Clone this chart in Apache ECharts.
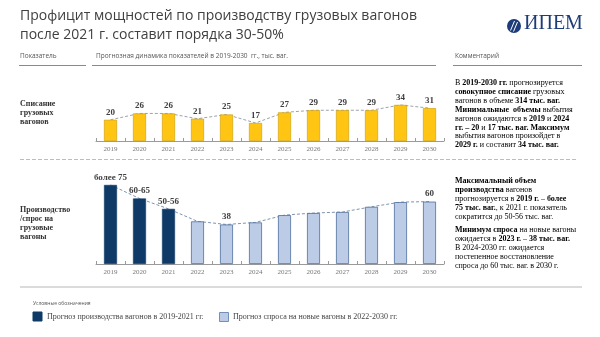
<!DOCTYPE html>
<html><head><meta charset="utf-8">
<script src="https://cdn.jsdelivr.net/npm/echarts@6/dist/echarts.min.js"></script>
<style>html,body{margin:0;padding:0;background:#fff}#c{width:600px;height:337px}</style>
</head><body><div id="c"></div>
<script>
// ---- data ----
const years = ['2019','2020','2021','2022','2023','2024','2025','2026','2027','2028','2029','2030'];
const writeoff = [20,26,26,21,25,17,27,29,29,29,34,31];
const prodDemand = [76,63,53,41,38,40,47,49,50,55,59.5,60];
const productionYears = 3; // 2019-2021 = production forecast, rest = demand forecast
const prodDemandLabels = ['более 75','60-65','50-56','','38','','','','','','','60'];

const production = prodDemand.map((v,i)=> i < productionYears ? v : '-');
const demand = prodDemand.map((v,i)=> i >= productionYears ? v : '-');

const SERIF = '"Liberation Serif", serif';
const SANS = '"Open Sans", sans-serif';

const chart = echarts.init(document.getElementById('c'), null, {renderer:'canvas'});

function xAxisCfg(gi){
  return {
    type:'category', gridIndex:gi, data:years,
    axisLine:{lineStyle:{color:'#9a9a9a',width:1}},
    axisTick:{show:true,inside:true,length:3,lineStyle:{color:'#9a9a9a'}},
    axisLabel:{fontFamily:SERIF,fontSize:7,color:'#777',margin:5}
  };
}
function yAxisCfg(gi,max){
  return {type:'value',gridIndex:gi,min:0,max:max,show:false,splitLine:{show:false}};
}
const valLabel = {show:true,position:'top',distance:3,fontFamily:SERIF,fontWeight:'bold',fontSize:9,color:'#404040'};

const rich = {
  b:{fontFamily:SERIF,fontSize:8,fontWeight:'bold',color:'#383838',lineHeight:8.9},
  g:{fontFamily:SERIF,fontSize:8,color:'#5a9a3a',fontWeight:'bold',lineHeight:8.9},
  n:{fontFamily:SERIF,fontSize:8,color:'#5a5a5a',lineHeight:8.9}
};
function commentText(lines){ return lines.join('\n'); }

const topComment = [
  '{n|В }{b|2019-2030 гг.}{n| прогнозируется}',
  '{b|совокупное списание}{n| грузовых}',
  '{n|вагонов в объеме }{g|314 тыс. ваг.}',
  '{b|Минимальные  объемы}{n| выбытия}',
  '{n|вагонов ожидаются в }{b|2019}{n| и }{b|2024}',
  '{b|гг. – }{g|20}{n| и }{g|17 тыс. ваг.}{b| Максимум}',
  '{n|выбытия вагонов произойдет в}',
  '{b|2029 г.}{n| и составит }{g|34 тыс. ваг.}'
];
const bottomComment1 = [
  '{b|Максимальный объем}',
  '{b|производства}{n| вагонов}',
  '{n|прогнозируется в }{b|2019 г.}{n| – }{g|более}',
  '{g|75 тыс. ваг.}{n|, к 2021 г. показатель}',
  '{n|сократится до 50-56 тыс. ваг.}'
];
const bottomComment2 = [
  '{b|Минимум спроса}{n| на новые вагоны}',
  '{n|ожидается в }{b|2023 г.}{n| – }{g|38 тыс. ваг.}',
  '{n|В 2024-2030 гг. ожидается}',
  '{n|постепенное восстановление}',
  '{n|спроса до 60 тыс. ваг. в 2030 г.}'
];

const graphic = [
  // title
  {type:'text',left:20,top:9,style:{text:'Профицит мощностей по производству грузовых вагонов',font:'14px '+SANS,fill:'#404040'}},
  {type:'text',left:20,top:28,style:{text:'после 2021 г. составит порядка 30-50%',font:'14px '+SANS,fill:'#404040'}},
  // logo
  {type:'circle',shape:{cx:514,cy:26,r:7},style:{fill:'#1d3c78'}},
  {type:'line',shape:{x1:510.5,y1:30.5,x2:514.5,y2:21},style:{stroke:'#fff',lineWidth:1}},
  {type:'line',shape:{x1:513.5,y1:31.5,x2:517.5,y2:22},style:{stroke:'#fff',lineWidth:1}},
  {type:'text',left:524,top:14,style:{text:'ИПЕМ',font:'20px '+SERIF,fill:'#1d3c78'}},
  // column headers
  {type:'text',left:20,top:53,style:{text:'Показатель',font:'6.5px '+SANS,fill:'#555'}},
  {type:'text',left:96,top:53,style:{text:'Прогнозная динамика показателей в 2019-2030  гг., тыс. ваг.',font:'6.5px '+SANS,fill:'#555'}},
  {type:'text',left:455,top:53,style:{text:'Комментарий',font:'6.5px '+SANS,fill:'#555'}},
  {type:'line',shape:{x1:19,y1:65.5,x2:86,y2:65.5},style:{stroke:'#8a8a8a',lineWidth:1}},
  {type:'line',shape:{x1:92,y1:65.5,x2:436,y2:65.5},style:{stroke:'#8a8a8a',lineWidth:1}},
  {type:'line',shape:{x1:453,y1:65.5,x2:582,y2:65.5},style:{stroke:'#8a8a8a',lineWidth:1}},
  // row labels
  {type:'text',left:20,top:99,style:{text:'Списание\nгрузовых\nвагонов',font:'bold 8px '+SERIF,fill:'#333',lineHeight:9.2}},
  {type:'text',left:20,top:205,style:{text:'Производство\n/спрос на\nгрузовые\nвагоны',font:'bold 8px '+SERIF,fill:'#333',lineHeight:9.2}},
  // separator dashed
  {type:'line',shape:{x1:20,y1:159.5,x2:578,y2:159.5},style:{stroke:'#bdbdbd',lineWidth:1,lineDash:[4,2]}},
  // comments
  {type:'text',left:455,top:79,style:{text:commentText(topComment),rich:rich}},
  {type:'text',left:455,top:177,style:{text:commentText(bottomComment1),rich:rich}},
  {type:'text',left:455,top:226,style:{text:commentText(bottomComment2),rich:rich}},
  // legend
  {type:'line',shape:{x1:20,y1:287,x2:582,y2:287},style:{stroke:'#cfcfcf',lineWidth:1.5}},
  {type:'text',left:33,top:301,style:{text:'Условные обозначения',font:'5px '+SANS,fill:'#555'}},
  {type:'rect',shape:{x:33,y:312,width:9,height:9},style:{fill:'#0f3a67',stroke:'#0f3a67'}},
  {type:'text',left:47,top:312.5,style:{text:'Прогноз производства вагонов в 2019-2021 гг.',font:'8px '+SERIF,fill:'#444'}},
  {type:'rect',shape:{x:219.5,y:312.5,width:9,height:9},style:{fill:'#bccbe6',stroke:'#5b7aa6',lineWidth:0.8}},
  {type:'text',left:233,top:312.5,style:{text:'Прогноз спроса на новые вагоны в 2022-2030 гг.',font:'8px '+SERIF,fill:'#444'}}
];

const option = {
  animation:false,
  backgroundColor:'#fff',
  grid:[
    {left:96,right:156,top:98.6,bottom:196},
    {left:96,right:156,top:180.8,bottom:73}
  ],
  xAxis:[xAxisCfg(0),xAxisCfg(1)],
  yAxis:[yAxisCfg(0,40),yAxisCfg(1,80)],
  series:[
    {type:'line',xAxisIndex:0,yAxisIndex:0,data:writeoff,symbol:'none',z:1,
     lineStyle:{color:'#9aa3ad',width:1,type:[3,2]}},
    {type:'bar',xAxisIndex:0,yAxisIndex:0,data:writeoff,barWidth:13,z:2,
     itemStyle:{color:'#ffc512',borderColor:'#c99a00',borderWidth:0.6},
     label:valLabel},
    {type:'line',xAxisIndex:1,yAxisIndex:1,data:prodDemand,symbol:'none',z:1,
     lineStyle:{color:'#7f93b0',width:1,type:[3,2]}},
    {type:'bar',xAxisIndex:1,yAxisIndex:1,data:production,barWidth:13,z:2,
     itemStyle:{color:'#0f3a67',borderColor:'#0f3a67',borderWidth:0.6},
     label:Object.assign({},valLabel,{formatter:p=>prodDemandLabels[p.dataIndex]})},
    {type:'bar',xAxisIndex:1,yAxisIndex:1,data:demand,barWidth:13,barGap:'-100%',z:2,
     itemStyle:{color:'#bccbe6',borderColor:'#4e6e9c',borderWidth:0.8},
     label:Object.assign({},valLabel,{formatter:p=>prodDemandLabels[p.dataIndex]})}
  ],
  graphic:graphic
};
chart.setOption(option);
</script></body></html>
